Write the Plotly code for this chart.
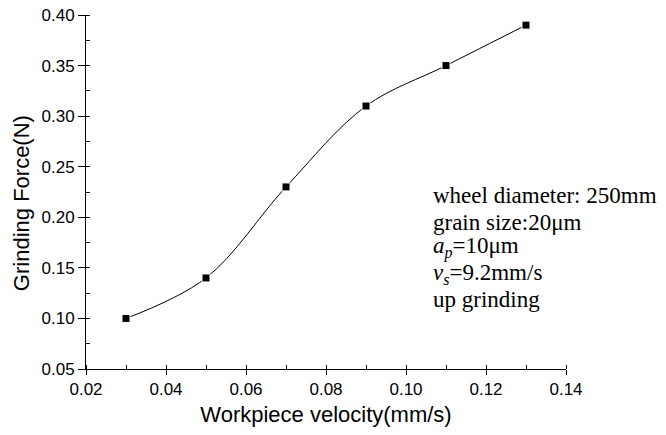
import plotly.graph_objects as go

velocity = [0.03, 0.05, 0.07, 0.09, 0.11, 0.13]
force = [0.10, 0.14, 0.23, 0.31, 0.35, 0.39]

info_lines = [
    "wheel diameter: 250mm",
    "grain size:20\u03bcm",
    "<i>a</i><sub><i>p</i></sub>=10\u03bcm",
    "<i>v</i><sub><i>s</i></sub>=9.2mm/s",
    "up grinding",
]

fig = go.Figure()
fig.add_trace(go.Scatter(
    x=velocity, y=force, mode="lines+markers",
    line=dict(color="black", width=1, shape="spline", smoothing=1.0),
    marker=dict(symbol="square", size=8, color="black", line=dict(color="white", width=1)),
    showlegend=False,
))

line_y = [0.4915, 0.415, 0.342, 0.268, 0.195]
for txt, yy in zip(info_lines, line_y):
    fig.add_annotation(
        text=txt, xref="paper", yref="paper", x=0.719, y=yy,
        xanchor="left", yanchor="middle", showarrow=False,
        font=dict(family="Liberation Serif, Times New Roman, serif", size=23, color="black"),
    )

axis_font = dict(family="Liberation Sans, Arial, sans-serif", size=17, color="black")
title_font = dict(family="Liberation Sans, Arial, sans-serif", size=22, color="black")

fig.add_annotation(
    text="Grinding Force(N)", xref="paper", yref="paper", x=-0.133, y=0.469,
    xanchor="center", yanchor="middle", textangle=-90, showarrow=False,
    font=title_font,
)

fig.update_xaxes(
    range=[0.02, 0.14], dtick=0.02, tick0=0.02, tickformat=".2f",
    showline=True, linecolor="black", linewidth=1, mirror=False,
    ticks="outside", ticklen=5, tickwidth=1, tickcolor="black",
    minor=dict(dtick=0.01, ticks="inside", ticklen=4, tickcolor="black", tickwidth=1, showgrid=False),
    showgrid=False, zeroline=False, tickfont=axis_font,
    title=dict(text="Workpiece velocity(mm/s)", font=title_font, standoff=8),
    automargin=False,
)
fig.update_yaxes(
    range=[0.05, 0.40], dtick=0.05, tick0=0.05, tickformat=".2f",
    showline=True, linecolor="black", linewidth=1, mirror=False,
    ticks="outside", ticklen=7, tickwidth=1, tickcolor="black",
    minor=dict(dtick=0.025, ticks="inside", ticklen=4, tickcolor="black", tickwidth=1, showgrid=False),
    showgrid=False, zeroline=False, tickfont=axis_font,
    automargin=False,
)
fig.update_layout(
    width=666, height=435,
    margin=dict(l=86, r=100, t=15, b=66),
    plot_bgcolor="white", paper_bgcolor="white",
)
fig.write_html("out.html")
